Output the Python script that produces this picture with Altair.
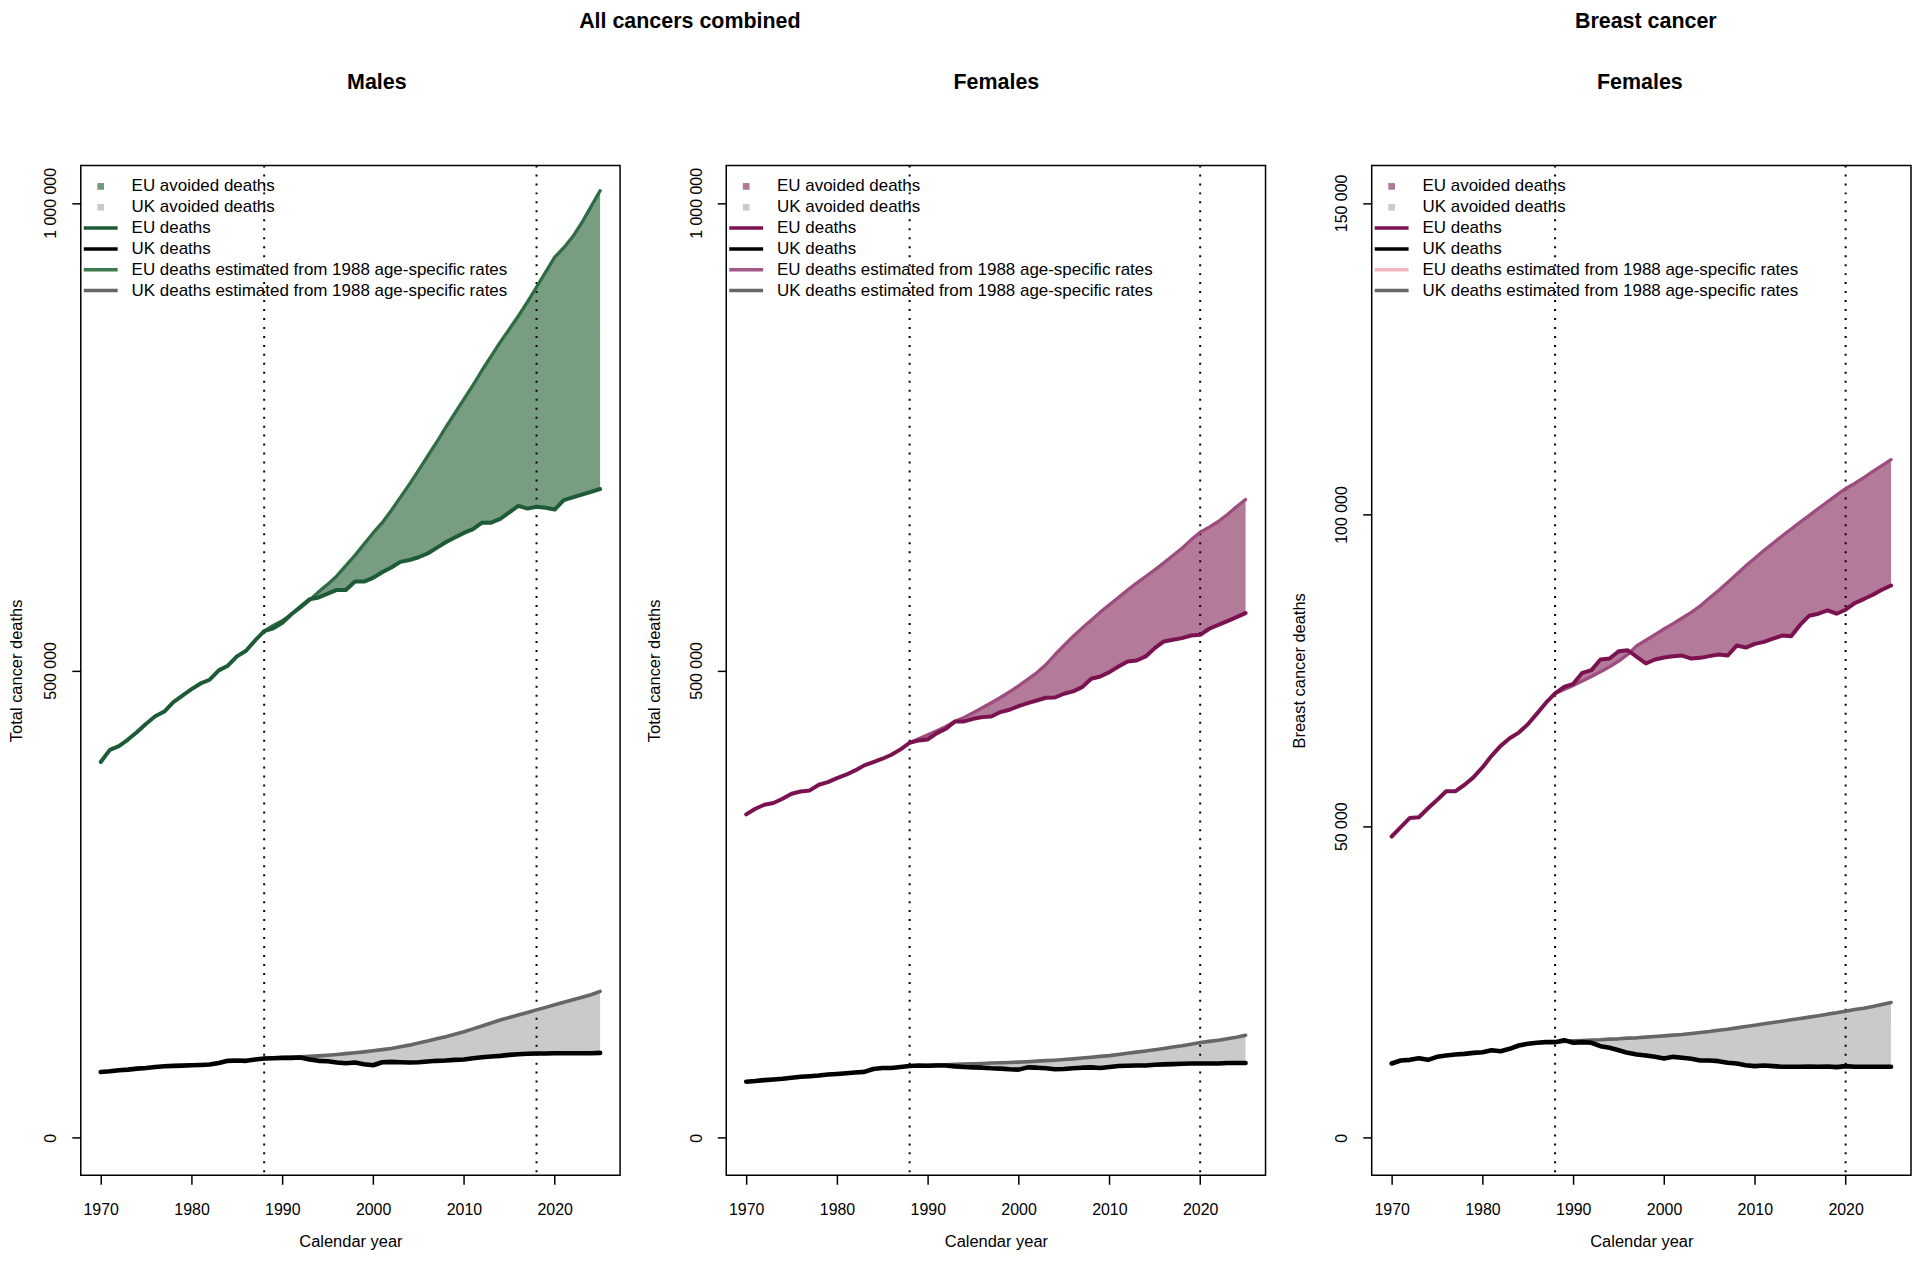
import altair as alt
import pandas as pd

FONT = "Liberation Sans"

YEARS = list(range(1970, 2026))
EST_YEARS = list(range(1988, 2026))

# ---- All cancers, males (thousands of deaths) ----
males_eu_k = [402, 415, 419, 426, 434, 443, 451, 456, 466, 473,
              480, 486, 490, 500, 505, 515, 521, 532, 542, 545,
              551, 560, 568, 576, 578, 582, 586, 586, 595, 595,
              599, 605, 610, 616, 618, 621, 625, 631, 637, 642,
              647, 651, 658, 658, 662, 669, 676, 673, 675, 674,
              672, 682, 685, 688, 691, 694]
males_eu_est_k = [542, 548, 553, 560, 567, 575, 584, 592, 601, 612,
                  623, 635, 647, 658, 671, 685, 699, 714, 729, 744,
                  760, 775, 790, 805, 821, 836, 851, 865, 879, 894,
                  910, 926, 942, 952, 964, 979, 996, 1013]
males_uk_k = [70.5, 71.2, 72.3, 73.0, 74.1, 74.8, 75.9, 76.6, 77.0, 77.3,
              77.7, 78.0, 78.4, 80.2, 82.4, 82.7, 82.4, 83.8, 84.9, 85.2,
              85.6, 85.6, 86.0, 83.8, 82.4, 82.0, 80.6, 79.8, 80.6, 78.8,
              77.7, 80.9, 81.3, 80.9, 80.6, 80.9, 81.6, 82.4, 82.7, 83.4,
              83.8, 85.2, 86.3, 87.0, 87.7, 88.8, 89.5, 89.9, 90.2, 90.2,
              90.6, 90.6, 90.6, 90.6, 90.6, 90.9]
males_uk_est_k = [84.9, 85.4, 85.9, 86.3, 86.7, 87.2, 87.7, 88.4, 89.2, 90.1,
                  91.0, 92.0, 93.1, 94.4, 95.6, 97.4, 99.2, 101.4, 103.5, 105.9,
                  108.2, 110.9, 113.6, 116.6, 119.7, 122.9, 126.1, 128.8, 131.5, 134.2,
                  136.9, 139.6, 142.3, 145.0, 147.7, 150.4, 153.1, 156.7]

# ---- All cancers, females ----
females_eu_k = [346.0, 352.0, 356.3, 358.1, 362.7, 368.0, 370.5, 371.6, 377.7, 380.5,
                384.8, 388.4, 393.0, 398.4, 401.9, 405.5, 409.8, 415.5, 422.6, 425.1,
                426.1, 432.9, 437.6, 445.4, 445.4, 448.2, 450.0, 450.7, 455.4, 457.9,
                461.8, 465.0, 467.8, 470.7, 471.0, 475.0, 477.5, 482.1, 491.0, 493.5,
                498.1, 504.2, 509.5, 510.6, 514.9, 523.8, 530.9, 532.7, 534.5, 537.3,
                538.0, 544.5, 548.7, 552.7, 556.9, 561.2]
females_eu_est_k = [422.6, 426.9, 431.1, 435.4, 440.1, 445.5, 449.7, 454.7, 460.0, 465.4,
                    471.0, 477.1, 483.5, 490.3, 497.4, 505.9, 516.7, 526.6, 536.3, 545.2,
                    553.7, 562.3, 570.1, 578.0, 585.8, 593.3, 600.4, 607.5, 615.0, 622.9,
                    630.7, 639.6, 647.8, 653.2, 659.2, 666.7, 674.9, 682.8]
females_uk_k = [60.1, 60.8, 61.8, 62.5, 63.2, 64.3, 65.3, 66.0, 66.7, 67.7,
                68.4, 69.2, 69.9, 70.6, 73.7, 74.7, 74.7, 75.8, 76.8, 77.5,
                77.2, 77.5, 77.5, 76.5, 75.8, 75.4, 75.1, 74.4, 74.1, 73.4,
                73.0, 75.4, 75.1, 74.4, 73.4, 73.7, 74.4, 75.1, 75.4, 74.7,
                75.8, 76.8, 77.2, 77.5, 77.5, 78.2, 78.6, 78.9, 79.3, 79.6,
                79.6, 79.6, 79.6, 80.0, 80.0, 80.0]
females_uk_est_k = [76.8, 77.2, 77.5, 77.9, 78.2, 78.6, 78.9, 79.3, 79.6, 80.0,
                    80.3, 80.7, 81.0, 81.5, 82.1, 82.6, 83.1, 83.8, 84.5, 85.4,
                    86.3, 87.2, 88.0, 89.2, 90.5, 91.7, 92.9, 94.3, 95.7, 97.1,
                    98.5, 100.2, 102.0, 103.2, 104.4, 106.0, 107.6, 109.7]

# ---- Breast cancer, females ----
breast_eu_k = [48.35, 49.84, 51.33, 51.44, 52.88, 54.21, 55.60, 55.60, 56.61, 57.83,
               59.43, 61.29, 62.89, 64.12, 65.02, 66.35, 68.06, 69.82, 71.31, 72.37,
               72.85, 74.61, 75.04, 76.74, 76.90, 78.07, 78.23, 77.17, 76.10, 76.74,
               77.06, 77.28, 77.38, 76.90, 77.01, 77.28, 77.54, 77.38, 78.98, 78.66,
               79.25, 79.57, 80.10, 80.58, 80.47, 82.33, 83.77, 84.09, 84.63, 84.09,
               84.73, 85.80, 86.44, 87.13, 87.93, 88.62]
breast_eu_est_k = [71.31, 71.95, 72.59, 73.28, 74.03, 74.77, 75.57, 76.48, 77.54, 78.98,
                   79.83, 80.74, 81.64, 82.50, 83.40, 84.31, 85.37, 86.60, 87.82, 89.10,
                   90.43, 91.77, 92.99, 94.22, 95.39, 96.56, 97.68, 98.80, 99.86, 100.98,
                   102.05, 103.11, 104.18, 104.98, 105.94, 106.91, 107.85, 108.81]
breast_uk_k = [11.93, 12.41, 12.52, 12.79, 12.52, 13.00, 13.22, 13.38, 13.48, 13.64,
               13.75, 14.07, 13.91, 14.29, 14.82, 15.09, 15.25, 15.36, 15.36, 15.68,
               15.25, 15.36, 15.25, 14.71, 14.45, 14.07, 13.64, 13.38, 13.22, 13.00,
               12.74, 13.00, 12.84, 12.68, 12.41, 12.41, 12.31, 12.04, 11.93, 11.66,
               11.51, 11.61, 11.51, 11.40, 11.40, 11.40, 11.45, 11.40, 11.45, 11.35,
               11.51, 11.40, 11.40, 11.40, 11.40, 11.40]
breast_uk_est_k = [15.36, 15.46, 15.57, 15.62, 15.68, 15.73, 15.84, 15.89, 16.00, 16.05,
                   16.16, 16.26, 16.37, 16.48, 16.59, 16.75, 16.91, 17.07, 17.28, 17.44,
                   17.65, 17.87, 18.08, 18.30, 18.51, 18.72, 18.94, 19.15, 19.37, 19.58,
                   19.85, 20.06, 20.33, 20.60, 20.81, 21.08, 21.40, 21.72]

# reference years (dotted lines)
males_vlines = [1988, 2018]
females_vlines = [1988, 2020]
breast_vlines = [1988, 2020]

X_TICKS = [1970, 1980, 1990, 2000, 2010, 2020]
Y_TICKS_ALL = [0, 500000, 1000000]
Y_LABELS_ALL = ["0", "500 000", "1 000 000"]
Y_TICKS_BREAST = [0, 50000, 100000, 150000]
Y_LABELS_BREAST = ["0", "50 000", "100 000", "150 000"]

LEGEND_LABELS = ["EU avoided deaths", "UK avoided deaths", "EU deaths", "UK deaths",
                 "EU deaths estimated from 1988 age-specific rates",
                 "UK deaths estimated from 1988 age-specific rates"]

TOP_TITLES = ["All cancers combined", "Breast cancer"]
SUB_TITLES = ["Males", "Females", "Females"]
Y_TITLES = ["Total cancer deaths", "Total cancer deaths", "Breast cancer deaths"]
X_TITLE = "Calendar year"

W, H = 541, 1013
X_DOMAIN = [1967.8, 2027.2]

GREEN = dict(fill="#789d80", line="#1d5a36", est="#2f6c44",
             leg_sq="#739a7c", leg_est="#3c7b4f")
PURPLE = dict(fill="#b47a9a", line="#7b1250", est="#9c4c7e",
              leg_sq="#b07897", leg_est="#a05886")
PURPLE_B = dict(PURPLE, leg_est="#f3b6c5")
UK = dict(fill="#c9cbcb", line="#000000", est="#666666", leg_sq="#cbcbcb")


def make_panel(eu, eu_est, uk, uk_est, vlines, ymax, yticks, ylabels, ytitle,
               subtitle, sub_x, pal, title_pad, top_title=None, top_x=None):
    xscale = alt.Scale(domain=X_DOMAIN, nice=False, zero=False)
    yscale = alt.Scale(domain=[-0.04 * ymax, 1.04 * ymax], nice=False, zero=False)
    label_expr = " : ".join(
        f"datum.value == {v} ? '{l}'" for v, l in zip(yticks, ylabels)) + " : ''"
    xaxis = alt.Axis(values=X_TICKS, format="d", title=X_TITLE, grid=False, domain=False,
                     tickSize=9, tickWidth=1.5, tickColor="black",
                     labelFont=FONT, labelFontSize=16, labelColor="black",
                     labelPadding=17, labelFlush=False, labelOverlap=False,
                     titleFont=FONT, titleFontSize=16.5, titleFontWeight="normal",
                     titleColor="black", titlePadding=16)
    yaxis = alt.Axis(values=yticks, labelExpr=label_expr, title=ytitle, grid=False,
                     domain=False, tickSize=9, tickWidth=1.5, tickColor="black",
                     labelFont=FONT, labelFontSize=16, labelColor="black",
                     labelAngle=-90, labelAlign="center", labelBaseline="bottom",
                     labelPadding=13, labelFlush=False, labelOverlap=False,
                     titleFont=FONT, titleFontSize=16.5, titleFontWeight="normal",
                     titleColor="black", titlePadding=title_pad)

    def X(f):
        return alt.X(f, type="quantitative", scale=xscale, axis=xaxis)

    def Y(f):
        return alt.Y(f, type="quantitative", scale=yscale, axis=yaxis)

    df_full = pd.DataFrame({"year": YEARS,
                            "eu": [v * 1000 for v in eu],
                            "uk": [v * 1000 for v in uk]})
    n0 = YEARS.index(EST_YEARS[0])
    df_est = pd.DataFrame({"year": EST_YEARS,
                           "eu": [v * 1000 for v in eu[n0:]],
                           "uk": [v * 1000 for v in uk[n0:]],
                           "eu_est": [v * 1000 for v in eu_est],
                           "uk_est": [v * 1000 for v in uk_est]})

    layers = []
    layers.append(alt.Chart(df_est).mark_area(color=pal["fill"], opacity=1, orient="vertical")
                  .encode(x=X("year"), y=Y("eu_est"), y2=alt.Y2("eu")))
    layers.append(alt.Chart(df_est).mark_area(color=UK["fill"], opacity=1, orient="vertical")
                  .encode(x=X("year"), y=Y("uk_est"), y2=alt.Y2("uk")))
    layers.append(alt.Chart(pd.DataFrame({"year": vlines}))
                  .mark_rule(color="black", strokeWidth=2, strokeDash=[2, 7])
                  .encode(x=X("year")))
    layers.append(alt.Chart(df_est).mark_line(color=pal["est"], strokeWidth=3.3,
                                              strokeCap="round", strokeJoin="round")
                  .encode(x=X("year"), y=Y("eu_est")))
    layers.append(alt.Chart(df_est).mark_line(color=UK["est"], strokeWidth=3.6,
                                              strokeCap="round", strokeJoin="round")
                  .encode(x=X("year"), y=Y("uk_est")))
    layers.append(alt.Chart(df_full).mark_line(color=pal["line"], strokeWidth=4,
                                               strokeCap="round", strokeJoin="round")
                  .encode(x=X("year"), y=Y("eu")))
    layers.append(alt.Chart(df_full).mark_line(color=UK["line"], strokeWidth=4.6,
                                               strokeCap="round", strokeJoin="round")
                  .encode(x=X("year"), y=Y("uk")))

    # legend (R style, inside top-left)
    sym = [("sq", pal["leg_sq"]), ("sq", UK["leg_sq"]), ("ln", pal["line"]),
           ("ln", UK["line"]), ("ln", pal["leg_est"]), ("ln", UK["est"])]
    for i, (lab, (kind, col)) in enumerate(zip(LEGEND_LABELS, sym)):
        ly = 21 + 20.9 * i
        d = pd.DataFrame({"label": [lab]})
        if kind == "sq":
            layers.append(alt.Chart(d).mark_square(size=45, color=col, opacity=1)
                          .encode(x=alt.value(20), y=alt.value(ly)))
        else:
            layers.append(alt.Chart(d).mark_rule(color=col, strokeWidth=3.5)
                          .encode(x=alt.value(3), x2=alt.value(37), y=alt.value(ly)))
        layers.append(alt.Chart(d).mark_text(align="left", baseline="middle", font=FONT,
                                             fontSize=17, color="black")
                      .encode(text="label:N", x=alt.value(51), y=alt.value(ly)))

    # titles
    layers.append(alt.Chart(pd.DataFrame({"t": [subtitle]}))
                  .mark_text(align="center", baseline="alphabetic", font=FONT,
                             fontSize=21.5, fontWeight="bold", color="black")
                  .encode(text="t:N", x=alt.value(sub_x), y=alt.value(-77)))
    if top_title is not None:
        layers.append(alt.Chart(pd.DataFrame({"t": [top_title]}))
                      .mark_text(align="center", baseline="top", font=FONT,
                                 fontSize=21.5, fontWeight="bold", color="black")
                      .encode(text="t:N", x=alt.value(top_x), y=alt.value(-155)))

    return alt.layer(*layers).properties(width=W, height=H)


p1 = make_panel(males_eu_k, males_eu_est_k, males_uk_k, males_uk_est_k, males_vlines,
                1000000, Y_TICKS_ALL, Y_LABELS_ALL, Y_TITLES[0], SUB_TITLES[0], 297,
                GREEN, 18, TOP_TITLES[0], 611)
p2 = make_panel(females_eu_k, females_eu_est_k, females_uk_k, females_uk_est_k, females_vlines,
                1000000, Y_TICKS_ALL, Y_LABELS_ALL, Y_TITLES[1], SUB_TITLES[1], 271,
                PURPLE, 26)
p3 = make_panel(breast_eu_k, breast_eu_est_k, breast_uk_k, breast_uk_est_k, breast_vlines,
                150000, Y_TICKS_BREAST, Y_LABELS_BREAST, Y_TITLES[2], SUB_TITLES[2], 269,
                PURPLE_B, 26, TOP_TITLES[1], 275)

chart = (alt.hconcat(p1, p2, p3, spacing=106.5, bounds="flush", padding=0)
         .configure(font=FONT)
         .configure_view(stroke="black", strokeWidth=1.5))

chart.save("out.html", embed_options={"renderer": "svg", "actions": False})
